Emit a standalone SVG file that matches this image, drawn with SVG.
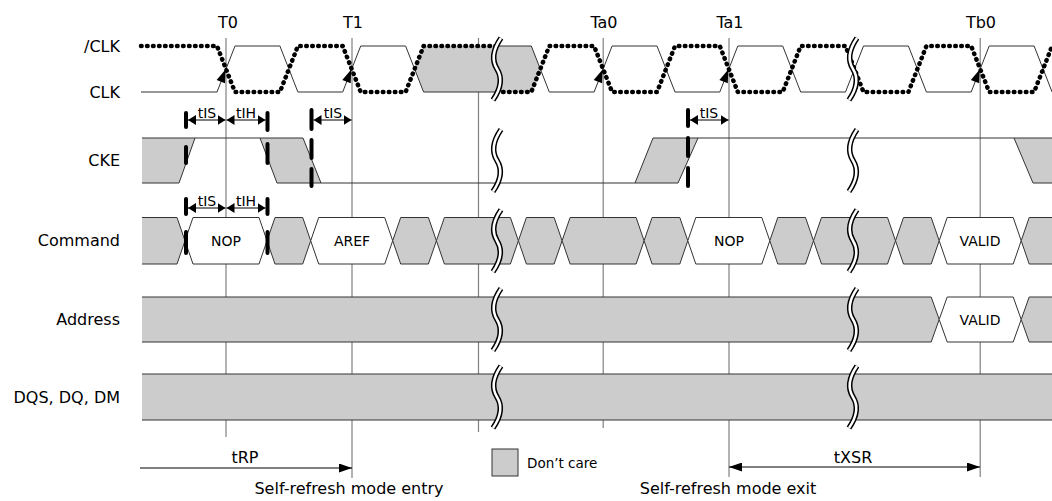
<svg xmlns="http://www.w3.org/2000/svg" width="1052" height="501" viewBox="0 0 1052 501">
<defs>
<style>
.vl{stroke:#808080;stroke-width:1.2;fill:none}
.sig{fill:none;stroke:#333;stroke-width:1}
.gf{fill:#cccccc;stroke:none}
.g{fill:#cccccc;stroke:#333;stroke-width:1}
.w{fill:#fff;stroke:#333;stroke-width:1}
.dot{fill:none;stroke:#000;stroke-width:4.5;stroke-dasharray:0.6 5.4;stroke-linecap:round;stroke-linejoin:round}
.bk{fill:none;stroke:#000;stroke-width:5.5}
.bw{fill:none;stroke:#fff;stroke-width:2.5}
.bar{stroke:#000;stroke-width:4;stroke-linecap:round}
.arr{stroke:#000;stroke-width:1;fill:none;marker-start:url(#ms);marker-end:url(#ms)}
.arrb{stroke:#000;stroke-width:1;fill:none}
text{font-family:"DejaVu Sans","Liberation Sans",sans-serif;fill:#000}
.lab{font-size:16px;text-anchor:end}
.t{font-size:16px;text-anchor:middle}
.cmd{font-size:14px;text-anchor:middle}
.tis{font-size:14px;text-anchor:middle}
</style>
<marker id="ms" viewBox="0 0 8 10" refX="8" refY="5" markerWidth="8" markerHeight="10" markerUnits="userSpaceOnUse" orient="auto-start-reverse"><path d="M0,0 L8,5 L0,10 Z" fill="#000"/></marker>
<marker id="mb" viewBox="0 0 13 9" refX="13" refY="4.5" markerWidth="13" markerHeight="9" markerUnits="userSpaceOnUse" orient="auto-start-reverse"><path d="M0,0 L13,4.5 L0,9 Z" fill="#000"/></marker>
<g id="brk"><path class="bk" d="M4,-31 C-5,-18 -5,-8 0,0 C5,8 5,18 -4,31"/><path class="bw" d="M4,-31 C-5,-18 -5,-8 0,0 C5,8 5,18 -4,31"/></g>
<polygon id="ca" points="-0.5,69.5 -9.4,80 -1,83.2" fill="#000"/>
</defs>
<rect width="1052" height="501" fill="#fff"/>

<g id="grid">
<line class="vl" x1="226" y1="38" x2="226" y2="437"/>
<line class="vl" x1="352" y1="38" x2="352" y2="478"/>
<line class="vl" x1="478.5" y1="38" x2="478.5" y2="432"/>
<line class="vl" x1="603.2" y1="38" x2="603.2" y2="428"/>
<line class="vl" x1="729" y1="38" x2="729" y2="477"/>
<line class="vl" x1="980.2" y1="38" x2="980.2" y2="477"/>
<text class="t" x="228" y="28">T0</text>
<text class="t" x="353" y="28">T1</text>
<text class="t" x="604" y="28">Ta0</text>
<text class="t" x="730" y="28">Ta1</text>
<text class="t" x="981" y="28">Tb0</text>
</g>

<g id="labels">
<text class="lab" x="120" y="52">/CLK</text>
<text class="lab" x="120" y="98">CLK</text>
<text class="lab" x="120" y="166">CKE</text>
<text class="lab" x="120" y="246">Command</text>
<text class="lab" x="120" y="325">Address</text>
<text class="lab" x="120" y="403">DQS, DQ, DM</text>
</g>

<g id="clock">
<polygon class="gf" points="414.6,69 423.6,46 531.3,46 540.3,69 531.3,92 423.6,92"/>
<path class="sig" d="M141,92 H217 L235,46 H279.9 L297.9,92 H342.7 L360.7,46 H405.6 L423.6,92 H497 M497,46 H531.3 L549.3,92 H594.1 L612.1,46 H657 L675,92 H719.8 L737.8,46 H782.7 L800.7,92 H845.5 L863.5,46 H908.4 L926.4,92 H971.2 L989.2,46 H1034.1 L1052.1,92"/>
<path class="dot" d="M141,46 H217 L235,92 H279.9 L297.9,46 H342.7 L360.7,92 H405.6 L423.6,46 H497 M497,92 H531.3 L549.3,46 H594.1 L612.1,92 H657 L675,46 H719.8 L737.8,92 H782.7 L800.7,46 H845.5 L863.5,92 H908.4 L926.4,46 H971.2 L989.2,92 H1034.1 L1052.1,46"/>
<use href="#ca" x="226"/>
<use href="#ca" x="351.7"/>
<use href="#ca" x="603.1"/>
<use href="#ca" x="728.8"/>
<use href="#ca" x="980.2"/>
<use href="#brk" x="497" y="69"/>
<use href="#brk" x="853" y="69"/>
</g>

<g id="cke">
<polygon class="gf" points="142,138 195,138 179,183 142,183"/>
<polygon class="gf" points="260,138 303,138 321,183 277,183"/>
<polygon class="gf" points="635,183 653,138 698,138 678,183"/>
<polygon class="gf" points="1014,138 1052,138 1052,183 1033,183"/>
<path class="sig" d="M142,138 H303 L321,183 H678 L698,138 H1052 M142,183 H179 L195,138 M260,138 L277,183 H321 M635,183 L653,138 H698 M1014,138 L1033,183 H1052"/>
<use href="#brk" x="497" y="160.5"/>
<use href="#brk" x="853" y="160.5"/>
</g>

<g id="command">
<polygon class="gf" points="142,217.5 177,217.5 185,240.75 177,264 142,264"/>
<path class="sig" d="M142,217.5 H177 L185,240.75 L177,264 H142"/>
<polygon class="w" points="185,240.75 193,217.5 259,217.5 267,240.75 259,264 193,264"/>
<polygon class="g" points="267,240.75 275,217.5 302.7,217.5 310.7,240.75 302.7,264 275,264"/>
<polygon class="w" points="310.7,240.75 318.7,217.5 384.7,217.5 392.7,240.75 384.7,264 318.7,264"/>
<polygon class="g" points="392.7,240.75 400.7,217.5 428.4,217.5 436.4,240.75 428.4,264 400.7,264"/>
<polygon class="g" points="436.4,240.75 444.4,217.5 510.4,217.5 518.4,240.75 510.4,264 444.4,264"/>
<polygon class="g" points="518.4,240.75 526.4,217.5 554.1,217.5 562.1,240.75 554.1,264 526.4,264"/>
<polygon class="g" points="562.1,240.75 570.1,217.5 636.1,217.5 644.1,240.75 636.1,264 570.1,264"/>
<polygon class="g" points="644.1,240.75 652.1,217.5 679.8,217.5 687.8,240.75 679.8,264 652.1,264"/>
<polygon class="w" points="687.8,240.75 695.8,217.5 761.8,217.5 769.8,240.75 761.8,264 695.8,264"/>
<polygon class="g" points="769.8,240.75 777.8,217.5 805.5,217.5 813.5,240.75 805.5,264 777.8,264"/>
<polygon class="g" points="813.5,240.75 821.5,217.5 887.5,217.5 895.5,240.75 887.5,264 821.5,264"/>
<polygon class="g" points="895.5,240.75 903.5,217.5 931.2,217.5 939.2,240.75 931.2,264 903.5,264"/>
<polygon class="w" points="939.2,240.75 947.2,217.5 1013.2,217.5 1021.2,240.75 1013.2,264 947.2,264"/>
<polygon class="g" points="1021.2,240.75 1029.2,217.5 1060,217.5 1060,264 1029.2,264"/>
<text class="cmd" x="226" y="246">NOP</text>
<text class="cmd" x="352" y="246">AREF</text>
<text class="cmd" x="729" y="246">NOP</text>
<text class="cmd" x="980" y="246">VALID</text>
<use href="#brk" x="497" y="240.75"/>
<use href="#brk" x="853" y="240.75"/>
</g>

<g id="address">
<polygon class="gf" points="142,297 931.2,297 939.2,319.5 931.2,342 142,342"/>
<path class="sig" d="M142,297 H931.2 L939.2,319.5 L931.2,342 H142"/>
<polygon class="w" points="939.2,319.5 947.2,297 1013.2,297 1021.2,319.5 1013.2,342 947.2,342"/>
<polygon class="g" points="1021.2,319.5 1029.2,297 1060,297 1060,342 1029.2,342"/>
<text class="cmd" x="980" y="325">VALID</text>
<use href="#brk" x="497" y="319.5"/>
<use href="#brk" x="853" y="319.5"/>
</g>

<g id="dqs">
<rect class="gf" x="142" y="374" width="910" height="46"/>
<path class="sig" d="M142,374 H1052 M142,420 H1052"/>
<use href="#brk" x="497" y="397"/>
<use href="#brk" x="853" y="397"/>
</g>

<g id="timing-marks">
<line class="bar" x1="186" y1="113" x2="186" y2="127"/>
<line class="bar" x1="186" y1="147" x2="186" y2="163"/>
<line class="bar" x1="267.5" y1="113" x2="267.5" y2="130"/>
<line class="bar" x1="267.5" y1="144" x2="267.5" y2="163"/>
<line class="bar" x1="311.5" y1="110" x2="311.5" y2="129"/>
<line class="bar" x1="311.5" y1="140" x2="311.5" y2="158"/>
<line class="bar" x1="311.5" y1="169" x2="311.5" y2="186"/>
<line class="bar" x1="688" y1="110" x2="688" y2="126"/>
<line class="bar" x1="688" y1="138" x2="688" y2="156"/>
<line class="bar" x1="688" y1="168" x2="688" y2="186"/>
<line class="bar" x1="186" y1="199" x2="186" y2="214"/>
<line class="bar" x1="186" y1="232" x2="186" y2="253"/>
<line class="bar" x1="267.5" y1="199" x2="267.5" y2="214"/>
<line class="bar" x1="267.5" y1="232" x2="267.5" y2="253"/>
</g>

<g id="connectors">
<line class="arr" x1="188" y1="120" x2="225.5" y2="120"/>
<line class="arr" x1="226.5" y1="120" x2="265.5" y2="120"/>
<line class="arr" x1="313.5" y1="120" x2="351.5" y2="120"/>
<line class="arr" x1="690" y1="120" x2="728.5" y2="120"/>
<line class="arr" x1="188" y1="208" x2="225.5" y2="208"/>
<line class="arr" x1="226.5" y1="208" x2="265.5" y2="208"/>
<line class="arrb" x1="140" y1="468" x2="352" y2="468" marker-end="url(#mb)"/>
<line class="arrb" x1="729" y1="467" x2="980" y2="467" marker-start="url(#mb)" marker-end="url(#mb)"/>
<text class="tis" x="207" y="118">tIS</text>
<text class="tis" x="246" y="118">tIH</text>
<text class="tis" x="333" y="118">tIS</text>
<text class="tis" x="709" y="118">tIS</text>
<text class="tis" x="207" y="206">tIS</text>
<text class="tis" x="246" y="206">tIH</text>
<text class="t" x="245" y="463" font-size="16.5">tRP</text>
<text class="t" x="853" y="463">tXSR</text>
<text class="t" x="349" y="494">Self-refresh mode entry</text>
<text class="t" x="728" y="494">Self-refresh mode exit</text>
</g>

<g id="legend">
<rect class="g" x="492" y="449" width="26" height="27"/>
<text x="527" y="468" font-size="13.5">Don’t care</text>
</g>
</svg>
